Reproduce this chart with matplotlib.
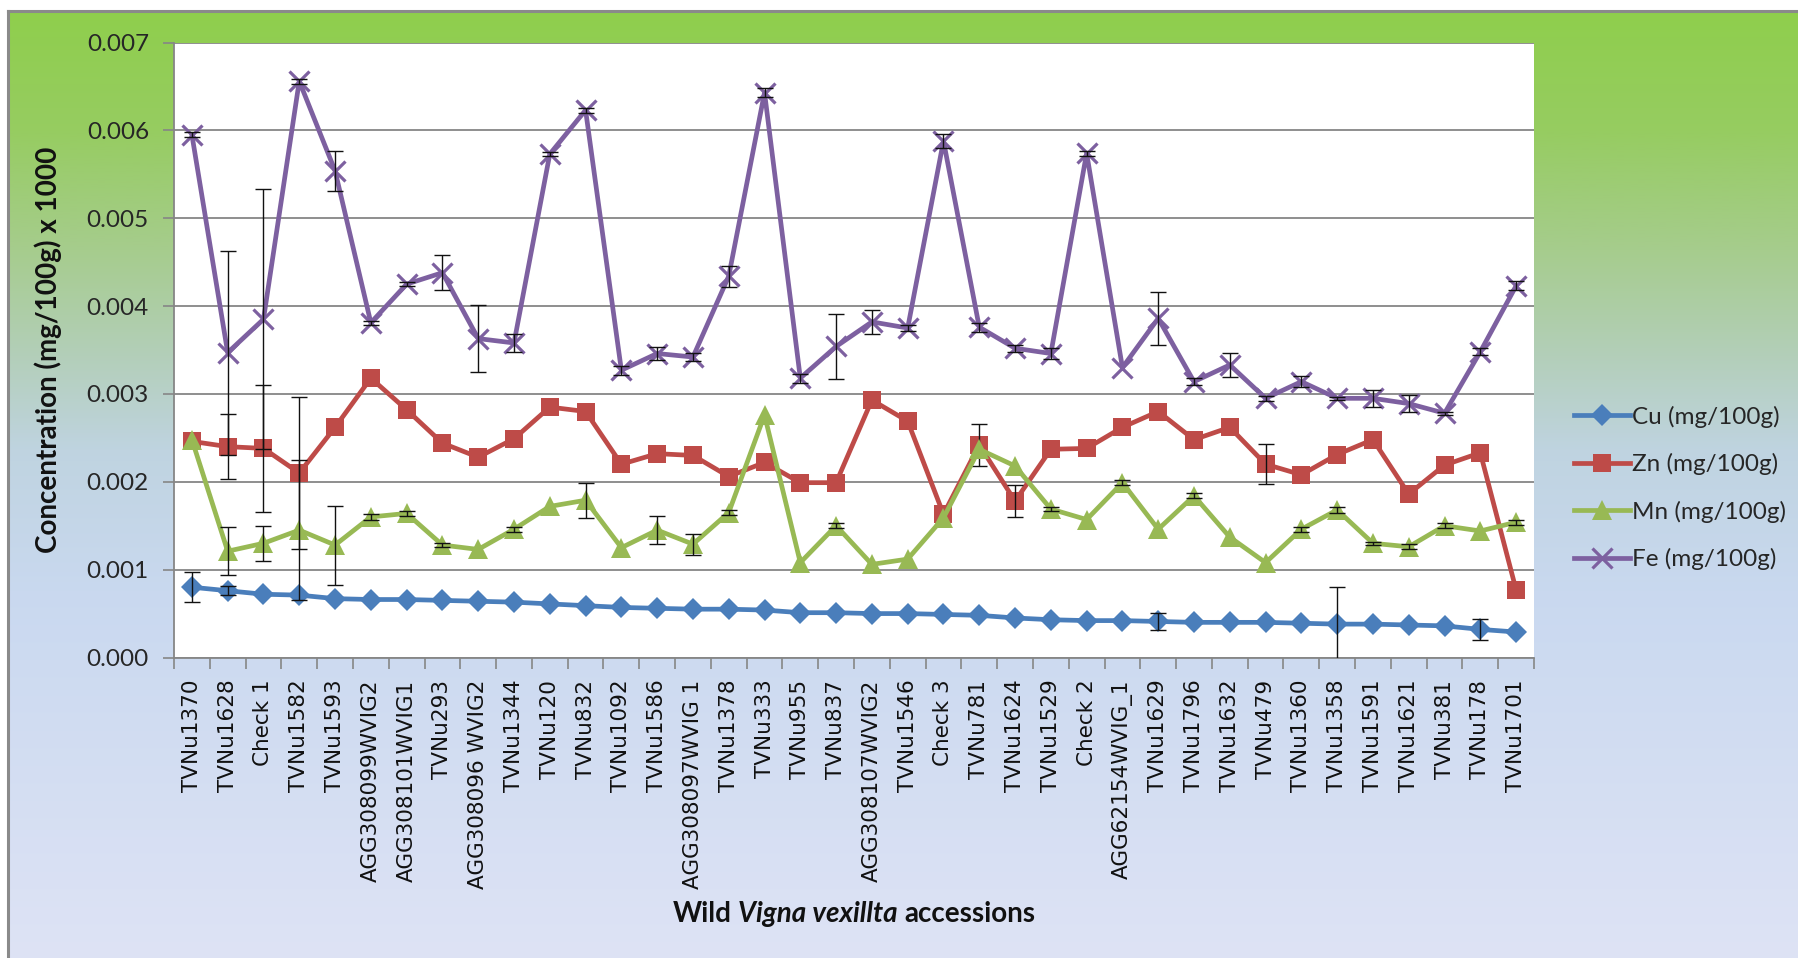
import numpy as np
import matplotlib
matplotlib.use("Agg")
import matplotlib.pyplot as plt

# ---------------- data ----------------
accessions = [
    "TVNu1370", "TVNu1628", "Check 1", "TVNu1582", "TVNu1593", "AGG308099WVIG2",
    "AGG308101WVIG1", "TVNu293", "AGG308096 WVIG2", "TVNu1344", "TVNu120", "TVNu832",
    "TVNu1092", "TVNu1586", "AGG308097WVIG 1", "TVNu1378", "TVNu333", "TVNu955",
    "TVNu837", "AGG308107WVIG2", "TVNu1546", "Check 3", "TVNu781", "TVNu1624",
    "TVNu1529", "Check 2", "AGG62154WVIG_1", "TVNu1629", "TVNu1796", "TVNu1632",
    "TVNu479", "TVNu1360", "TVNu1358", "TVNu1591", "TVNu1621", "TVNu381", "TVNu178",
    "TVNu1701",
]

cu = [0.00080, 0.00076, 0.00072, 0.00071, 0.00067, 0.00066, 0.00066, 0.00065, 0.00064,
      0.00063, 0.00061, 0.00059, 0.00057, 0.00056, 0.00055, 0.00055, 0.00054, 0.00051,
      0.00051, 0.00050, 0.00050, 0.00049, 0.00048, 0.00045, 0.00043, 0.00042, 0.00042,
      0.00041, 0.00040, 0.00040, 0.00040, 0.00039, 0.00038, 0.00038, 0.00037, 0.00036,
      0.00032, 0.00029]
zn = [0.00246, 0.00240, 0.00238, 0.00210, 0.00262, 0.00318, 0.00282, 0.00244, 0.00228,
      0.00249, 0.00285, 0.00280, 0.00220, 0.00232, 0.00230, 0.00206, 0.00222, 0.00199,
      0.00199, 0.00293, 0.00269, 0.00163, 0.00242, 0.00178, 0.00237, 0.00238, 0.00262,
      0.00280, 0.00248, 0.00262, 0.00220, 0.00208, 0.00231, 0.00248, 0.00186, 0.00219,
      0.00233, 0.00077]
mn = [0.00248, 0.00121, 0.00130, 0.00145, 0.00128, 0.00160, 0.00164, 0.00128, 0.00123,
      0.00146, 0.00172, 0.00179, 0.00125, 0.00145, 0.00129, 0.00165, 0.00276, 0.00108,
      0.00150, 0.00106, 0.00112, 0.00159, 0.00237, 0.00218, 0.00169, 0.00157, 0.00199,
      0.00146, 0.00184, 0.00137, 0.00108, 0.00146, 0.00168, 0.00130, 0.00126, 0.00150,
      0.00144, 0.00154]
fe = [0.00595, 0.00347, 0.00385, 0.00656, 0.00554, 0.00381, 0.00425, 0.00438, 0.00363,
      0.00358, 0.00573, 0.00623, 0.00327, 0.00346, 0.00342, 0.00434, 0.00643, 0.00318,
      0.00354, 0.00382, 0.00375, 0.00588, 0.00376, 0.00352, 0.00346, 0.00574, 0.00330,
      0.00386, 0.00314, 0.00333, 0.00295, 0.00314, 0.00295, 0.00295, 0.00289, 0.00278,
      0.00348, 0.00423]

# standard deviations (0 = no error bar shown)
cu_err = [0.00017, 0.00005, 0, 0, 0, 0, 0, 0, 0, 0, 0, 0, 0, 0, 0, 0, 0, 0, 0, 0, 0, 0,
          0, 0, 0, 0, 0, 0.00010, 0, 0, 0, 0, 0.00042, 0, 0, 0, 0.00012, 0]
zn_err = [0, 0.00037, 0.00072, 0.00087, 0, 0, 0, 0, 0, 0, 0, 0, 0, 0, 0, 0, 0, 0, 0, 0,
          0, 0, 0.00024, 0.00018, 0, 0, 0, 0, 0, 0, 0.00023, 0, 0, 0, 0, 0, 0, 0]
mn_err = [0, 0.00027, 0.00020, 0.00080, 0.00045, 0.00003, 0.00003, 0.00002, 0, 0.00003,
          0, 0.00020, 0, 0.00016, 0.00012, 0.00003, 0, 0, 0.00003, 0, 0, 0, 0, 0,
          0.00002, 0, 0.00003, 0, 0.00003, 0, 0, 0.00003, 0.00003, 0.00002, 0.00003,
          0.00003, 0, 0.00003]
fe_err = [0.00003, 0.00116, 0.00148, 0.00003, 0.00023, 0.00002, 0.00002, 0.00020, 0.00038,
          0.00010, 0.00002, 0.00003, 0.00005, 0.00007, 0.00005, 0.00012, 0.00005, 0.00005,
          0.00037, 0.00014, 0.00003, 0.00008, 0.00005, 0.00004, 0.00006, 0.00003, 0,
          0.00030, 0.00004, 0.00014, 0.00003, 0.00006, 0.00002, 0.00010, 0.00010, 0.00002,
          0.00004, 0.00005]

series_names = ["Cu (mg/100g)", "Zn (mg/100g)", "Mn (mg/100g)", "Fe (mg/100g)"]
yticks = [0.000, 0.001, 0.002, 0.003, 0.004, 0.005, 0.006, 0.007]

# ---------------- figure ----------------
W, H = 1799, 958
fig = plt.figure(figsize=(W / 100, H / 100), dpi=100)
fig.patch.set_facecolor("white")

UI_FONT = "Lato"
TICK_FONT = "DejaVu Sans"

# chart background panel: green-to-blue vertical gradient
bg = fig.add_axes([8 / W, 0, 1 - 8 / W, (H - 11) / H], zorder=0)
stop_t = [0.0, 0.126, 0.25, 0.36, 0.464, 0.62, 1.0]
stop_rgb = [(0.56, 0.81, 0.30), (0.59, 0.80, 0.38), (0.65, 0.80, 0.55),
            (0.70, 0.81, 0.72), (0.75, 0.83, 0.88), (0.79, 0.85, 0.94),
            (0.87, 0.89, 0.96)]
t = np.linspace(0, 1, 600)
grad = np.stack([np.interp(t, stop_t, [c[k] for c in stop_rgb]) for k in range(3)], axis=-1)
bg.imshow(grad[:, None, :], aspect="auto", extent=(0, 1, 0, 1), interpolation="bilinear")
bg.set_xlim(0, 1)
bg.set_ylim(0, 1)
bg.set_xticks([])
bg.set_yticks([])
for side in ("right", "bottom"):
    bg.spines[side].set_visible(False)
for side in ("left", "top"):
    bg.spines[side].set_color("#8a8a8a")
    bg.spines[side].set_linewidth(2.2)

# plot area
x0, x1, ytop, ybot = 174, 1534, 42.5, 657.5
ax = fig.add_axes([x0 / W, 1 - ybot / H, (x1 - x0) / W, (ybot - ytop) / H], zorder=2)
ax.set_facecolor("white")

x = np.arange(len(accessions))
styles = [
    dict(color="#4A7EBB", marker="D", ms=11.5, mew=0),
    dict(color="#BE4B48", marker="s", ms=13.5, mew=0),
    dict(color="#98B954", marker="^", ms=15, mew=0),
    dict(color="#7D60A0", marker="x", ms=14, mew=2.3),
]
values = [cu, zn, mn, fe]
errors = [cu_err, zn_err, mn_err, fe_err]

handles = []
for k, (vals, errs, st, name) in enumerate(zip(values, errors, styles, series_names)):
    vals = np.asarray(vals)
    errs = np.asarray(errs)
    (ln,) = ax.plot(x, vals, color=st["color"], lw=3.4, marker=st["marker"],
                    ms=st["ms"], mfc=st["color"], mec=st["color"], mew=st["mew"],
                    zorder=3 + 2 * k, label=name, solid_joinstyle="round")
    handles.append(ln)
    idx = errs > 0
    ax.errorbar(x[idx], vals[idx], yerr=errs[idx], fmt="none", ecolor="#111111",
                elinewidth=1.0, capsize=5.5, capthick=1.0, zorder=4 + 2 * k)

ax.set_xlim(-0.5, len(accessions) - 0.5)
ax.set_ylim(0, 0.007)
ax.set_yticks(yticks)
ax.set_yticklabels([f"{v:.3f}" for v in yticks], fontfamily=UI_FONT, fontsize=17.5,
                   color="#262626")
ax.tick_params(axis="y", length=8, width=1.2, color="#868686", pad=10, direction="out")

ax.set_xticks(x)
ax.set_xticklabels(accessions, rotation=90, fontfamily=TICK_FONT, fontsize=15.5,
                   color="#111111", va="top", ha="center")
ax.tick_params(axis="x", which="major", length=0, pad=16)
ax.set_xticks(np.arange(-0.5, len(accessions), 1.0), minor=True)
ax.tick_params(axis="x", which="minor", length=8, width=1.2, color="#868686",
               direction="out")

ax.yaxis.grid(True, color="#868686", lw=1.3)
ax.set_axisbelow(True)
for side in ("top", "right"):
    ax.spines[side].set_visible(False)
for side in ("left", "bottom"):
    ax.spines[side].set_color("#868686")
    ax.spines[side].set_linewidth(1.3)

ax.set_ylabel("Concentration (mg/100g) x 1000", fontfamily=UI_FONT, fontsize=20,
              fontweight="bold", color="#111111")
ax.yaxis.set_label_coords((62 - x0) / (x1 - x0), 0.50)

# legend
leg = ax.legend(handles=handles, loc="center left",
                bbox_to_anchor=(1574 / W, 1 - 488 / H), bbox_transform=fig.transFigure,
                frameon=False, numpoints=1, handlelength=2.3, handletextpad=0.1,
                labelspacing=1.05, borderpad=0, borderaxespad=0,
                prop=dict(family=UI_FONT, size=17.5))
for txt in leg.get_texts():
    txt.set_color("#262626")

# x-axis title with italic species name
renderer = fig.canvas.get_renderer()
parts = [("Wild", "normal"), ("Vigna vexillta", "italic"), ("accessions", "normal")]
fs_title = 20
pieces = [fig.text(0, 0, s, fontsize=fs_title, fontweight="bold", style=sty,
                   fontfamily=UI_FONT, color="#111111", va="center", ha="left")
          for s, sty in parts]
widths = [p.get_window_extent(renderer).width for p in pieces]
gap = 0.24 * fs_title * 100 / 72
total = sum(widths) + gap * (len(pieces) - 1)
cx, cy = 854, 914
xs = cx - total / 2
for p, w in zip(pieces, widths):
    p.set_position((xs / W, 1 - cy / H))
    xs += w + gap

fig.savefig("out.png", dpi=100, facecolor=fig.get_facecolor())
